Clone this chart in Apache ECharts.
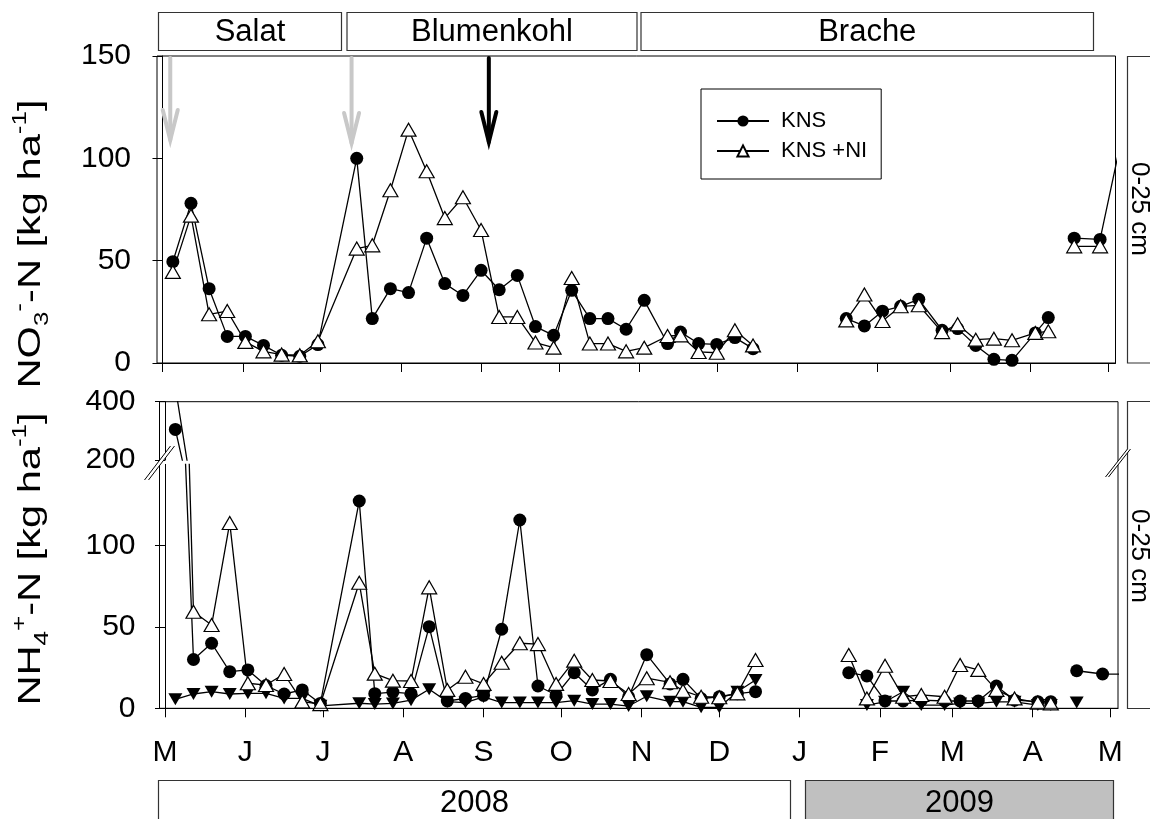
<!DOCTYPE html>
<html>
<head>
<meta charset="utf-8">
<title>Nmin 0-25 cm, 2008/2009</title>
<script src="https://cdn.jsdelivr.net/npm/echarts@6/dist/echarts.min.js"></script>
<style>
  html, body { margin: 0; padding: 0; background: #fff; }
  #chart { width: 1150px; height: 819px; }
</style>
</head>
<body>
<div id="chart"></div>
<script>
// ---- sampling dates (weekly soil sampling, 0-25 cm) ----
const sampleDates = [
  '2008-05-05', '2008-05-12', '2008-05-19', '2008-05-26', '2008-06-02', '2008-06-09',
  '2008-06-16', '2008-06-23', '2008-06-30', '2008-07-15', '2008-07-21', '2008-07-28',
  '2008-08-04', '2008-08-11', '2008-08-18', '2008-08-25', '2008-09-01', '2008-09-08',
  '2008-09-15', '2008-09-22', '2008-09-29', '2008-10-06', '2008-10-13', '2008-10-20',
  '2008-10-27', '2008-11-03', '2008-11-12', '2008-11-17', '2008-11-24', '2008-12-01',
  '2008-12-08', '2008-12-15',
  '2009-01-20', '2009-01-27', '2009-02-03', '2009-02-10', '2009-02-17', '2009-02-26',
  '2009-03-04', '2009-03-11', '2009-03-18', '2009-03-25', '2009-04-03', '2009-04-08',
  '2009-04-18', '2009-04-28', '2009-05-05'
];

// lines are interrupted at these dates (pauses in the sampling campaign)
const lineBreaks = ['2009-01-01', '2009-04-13'];

// NO3--N [kg/ha]
const nitrateKNS = [
  49.5, 78, 36.3, 13, 13, 8.6, 3.8, 3.3, 9, 100, 21.7, 36.3,
  34.4, 61, 38.8, 33, 45.3, 35.8, 42.8, 17.8, 13.5, 35.5, 21.7, 21.7,
  16.5, 30.6, 9.5, 15.1, 9.5, 9.1, 12.4, 7,
  21.7, 18.1, 25.3, 27.7, 31.1, 16, 16.8, 8.6, 1.8, 1.3, 14.7, 22.2,
  61, 60.4, 102
];
const nitrateKNSNI = [
  44.5, 72, 23.8, 25.4, 10.3, 5.7, 4.1, 3.8, 10.6, 55.9, 57.5, 84.4,
  114, 93.7, 70.8, 81, 65, 22.5, 22.5, 10, 7.5, 41.5, 9.5, 9.5,
  5.7, 7.5, 13.2, 13.5, 5.4, 5, 16, 8.6,
  20.8, 33.5, 20.5, 27.7, 28.2, 15.1, 18.9, 11.4, 11.9, 11.1, 14.7, 15.5,
  57, 57, null
];

// NH4+-N [kg/ha]
const ammoniumKNS = [
  305, 30, 40, 22.5, 23.6, 14, 8.8, 11.3, 3, 127.5, 9, 10,
  9, 50.2, 4.5, 6.1, 8, 48.6, 115.8, 13.7, 8.2, 21.9, 11.3, 17.8,
  7, 33, 15, 17.8, 6, 7.1, 9, 10.2,
  21.9, 19.9, 4.5, 4.5, 5, 4.5, 4.5, 4.5, 13.7, 5, 4.1, 4.1,
  23.1, 21.1, 21
];
const ammoniumKNSNI = [
  450, 59.4, 51.2, 114, 15.4, 14.3, 21.1, 4.1, 2.6, 77.2, 21.3, 17,
  16.8, 74.4, 11.3, 19.4, 15, 28, 40, 39.5, 15, 29.3, 17.4, 16.8,
  8.8, 18.5, 16, 10.8, 7.1, 6.8, 9.2, 29.7,
  32.8, 6.1, 26.2, 7.1, 8.2, 7.1, 26.6, 23.6, 11.3, 6.1, 3.5, 3,
  null, null, null
];
const ammoniumThird = [
  5.5, 8.8, 10.2, 8.8, 9.2, 9.2, 6.1, 6.1, 1.5, 3.1, 2.6, 3,
  5, 11.7, 4.1, 3.5, 7, 3.5, 3.5, 3.5, 3.5, 4.7, 2.6, 2.6,
  1.4, 7.4, 4.1, 4.1, 0.6, 0.6, 10.2, 17.4,
  null, 2, 4, 10.2, 2, 2, 3, 3, 4, 4, 2, 2,
  3.5, null, null
];

// fertilizer applications (arrow tip value on the NO3 axis)
const fertilizerDates = ['2008-05-04', '2008-07-13', '2008-09-04'];
const fertilizerTips = [109, 107.5, 108];
const fertilizerKinds = ['grau', 'grau', 'schwarz'];

// month ticks
const monthTickDates = [
  '2008-05-01', '2008-06-01', '2008-07-01', '2008-08-01', '2008-09-01', '2008-10-01',
  '2008-11-01', '2008-12-01', '2009-01-01', '2009-02-01', '2009-03-01', '2009-04-01',
  '2009-05-01'
];
const monthTickLabels = ['M', 'J', 'J', 'A', 'S', 'O', 'N', 'D', 'J', 'F', 'M', 'A', 'M'];

// crop periods and years
const cropPeriods = ['Salat', 'Blumenkohl', 'Brache'];
const years = ['2008', '2009'];

// ---- helpers ----
const ORIGIN = Date.UTC(2008, 4, 1);
function dayOf(s) {
  const p = s.split('-').map(Number);
  return Math.round((Date.UTC(p[0], p[1] - 1, p[2]) - ORIGIN) / 86400000);
}
function seriesData(values) {
  const pts = sampleDates.map((d, i) => [dayOf(d), values[i] == null ? '-' : values[i]]);
  lineBreaks.forEach(b => pts.push([dayOf(b), '-']));
  pts.sort((a, b) => a[0] - b[0]);
  return pts;
}

const FONT = "'Liberation Sans', Arial, Helvetica, sans-serif";
const axisStartDay = -2.12;
const axisEndDay = 367.95;
const tickDays = monthTickDates.map(dayOf);

function xAxisCfg(gridIndex, withLabels, visible) {
  return {
    type: 'value', gridIndex, min: axisStartDay, max: axisEndDay, show: visible,
    axisLine: { show: true, onZero: false, lineStyle: { color: '#000', width: 1 } },
    axisTick: { show: true, inside: false, length: 9, customValues: tickDays, lineStyle: { color: '#000', width: 1 } },
    axisLabel: {
      show: withLabels, customValues: tickDays, margin: 29, color: '#000',
      fontFamily: FONT, fontSize: 30,
      formatter: v => { const i = tickDays.indexOf(Math.round(v)); return i >= 0 ? monthTickLabels[i] : ''; }
    },
    splitLine: { show: false }
  };
}
function yAxisCfg(gridIndex, min, max, ticks, margin) {
  return {
    type: 'value', gridIndex, min, max,
    axisLine: { show: true, lineStyle: { color: '#000', width: 1 } },
    axisTick: { show: true, inside: false, length: 10, customValues: ticks, lineStyle: { color: '#000', width: 1 } },
    axisLabel: { customValues: ticks, margin, color: '#000', fontFamily: FONT, fontSize: 30 },
    splitLine: { show: false }
  };
}

const lineStyle = { color: '#000', width: 1.3 };
function circleSeries(name, values, xi, yi) {
  return {
    name, type: 'line', xAxisIndex: xi, yAxisIndex: yi, data: seriesData(values),
    symbol: 'circle', symbolSize: 13, showAllSymbol: true, clip: true,
    lineStyle, itemStyle: { color: '#000', borderColor: '#000', borderWidth: 0 },
    emphasis: { disabled: true }, animation: false
  };
}
function triangleSeries(name, values, xi, yi) {
  return {
    name, type: 'line', xAxisIndex: xi, yAxisIndex: yi, data: seriesData(values),
    symbol: 'triangle', symbolSize: [15, 13], showAllSymbol: true, clip: true,
    lineStyle, itemStyle: { color: '#fff', borderColor: '#000', borderWidth: 1.2 },
    emphasis: { disabled: true }, animation: false
  };
}
function downTriangleSeries(name, values, xi, yi) {
  return {
    name, type: 'line', xAxisIndex: xi, yAxisIndex: yi, data: seriesData(values),
    symbol: 'triangle', symbolRotate: 180, symbolSize: [14, 12], showAllSymbol: true, clip: true,
    lineStyle, itemStyle: { color: '#000', borderColor: '#000', borderWidth: 0 },
    emphasis: { disabled: true }, animation: false
  };
}

// arrows for the fertilizer applications
const arrowSeries = {
  type: 'custom', xAxisIndex: 0, yAxisIndex: 0, silent: true, animation: false,
  data: fertilizerDates.map((d, i) => [dayOf(d), fertilizerTips[i], i]),
  renderItem(params, api) {
    const x = api.value(0);
    const top = api.coord([x, 150]);
    const tip = api.coord([x, api.value(1)]);
    const color = fertilizerKinds[api.value(2)] === 'schwarz' ? '#000' : '#c8c8c8';
    const st = { stroke: color, lineWidth: 4, fill: null, lineCap: 'round', lineJoin: 'miter' };
    return {
      type: 'group',
      children: [
        { type: 'line', shape: { x1: top[0], y1: top[1] + 2, x2: tip[0], y2: tip[1] }, style: st },
        { type: 'polyline', shape: { points: [[tip[0] - 7.5, tip[1] - 30], [tip[0], tip[1]], [tip[0] + 7.5, tip[1] - 30]] }, style: st }
      ]
    };
  }
};

// ---- layout decorations ----
const gTop = { left: 157, top: 56, width: 958.5, height: 307 };
const gLow = { left: 159.5, top: 464.4, width: 958.5, height: 243.9 };
const gUp = { left: 159.5, top: 401.7, width: 958.5, height: 58.3 };

const headerBoxes = [[158.5, 341.5], [347, 637], [641, 1093.5]];
const graphic = [];
cropPeriods.forEach((name, i) => {
  const [x0, x1] = headerBoxes[i];
  graphic.push({ type: 'rect', shape: { x: x0, y: 12.5, width: x1 - x0, height: 38 },
    style: { fill: '#fff', stroke: '#333', lineWidth: 1.2 } });
  graphic.push({ type: 'text', x: (x0 + x1) / 2, y: 32,
    style: { text: name, fill: '#000', fontFamily: FONT, fontSize: 31, align: 'center', verticalAlign: 'middle' } });
});
const yearBoxes = [[158.5, 790.5, '#fff'], [805.5, 1113.5, '#c0c0c0']];
years.forEach((y, i) => {
  const [x0, x1, fill] = yearBoxes[i];
  graphic.push({ type: 'rect', shape: { x: x0, y: 780.5, width: x1 - x0, height: 60 },
    style: { fill, stroke: '#333', lineWidth: 1.2 } });
  graphic.push({ type: 'text', x: (x0 + x1) / 2, y: 803,
    style: { text: y, fill: '#000', fontFamily: FONT, fontSize: 31, align: 'center', verticalAlign: 'middle' } });
});
// depth labels at the right
[[56.5, 363, 209], [401.5, 708.5, 556]].forEach(([y0, y1, yc]) => {
  graphic.push({ type: 'rect', shape: { x: 1127.5, y: y0, width: 40, height: y1 - y0 },
    style: { fill: '#fff', stroke: '#333', lineWidth: 1.2 } });
  graphic.push({ type: 'text', x: 1139, y: yc, rotation: -Math.PI / 2,
    style: { text: '0-25 cm', fill: '#000', fontFamily: FONT, fontSize: 26, align: 'center', verticalAlign: 'middle' } });
});
// y-axis titles with sub/superscripts
const titleRich = {
  m: { fontFamily: FONT, fontSize: 32, lineHeight: 42, fill: '#000' },
  sub: { fontFamily: FONT, fontSize: 20, lineHeight: 20, verticalAlign: 'bottom', fill: '#000' },
  sup: { fontFamily: FONT, fontSize: 20, lineHeight: 20, verticalAlign: 'top', fill: '#000' }
};
graphic.push({ type: 'text', x: 31, y: 244, rotation: Math.PI / 2, scaleX: 1.3,
  style: { text: '{m|NO}{sub|3}{sup|-}{m|-N [kg ha}{sup|-1}{m|]}', rich: titleRich, align: 'center', verticalAlign: 'middle' } });
graphic.push({ type: 'text', x: 31, y: 559, rotation: Math.PI / 2, scaleX: 1.3,
  style: { text: '{m|NH}{sub|4}{sup|+}{m|-N [kg ha}{sup|-1}{m|]}', rich: titleRich, align: 'center', verticalAlign: 'middle' } });
// frame of the lower panel
graphic.push({ type: 'rect', z: 5, shape: { x: gUp.left, y: gUp.top, width: gUp.width, height: gLow.top + gLow.height - gUp.top },
  style: { fill: null, stroke: '#000', lineWidth: 1 } });
// axis break marks
function breakMark(cx, cy, dx, dy, sep) {
  graphic.push({ type: 'polygon', z: 20,
    shape: { points: [[cx - dx - sep, cy + dy], [cx + dx - sep, cy - dy], [cx + dx + sep, cy - dy], [cx - dx + sep, cy + dy]] },
    style: { fill: '#fff', stroke: null } });
  [-sep, sep].forEach(o => graphic.push({ type: 'line', z: 21,
    shape: { x1: cx - dx + o, y1: cy + dy, x2: cx + dx + o, y2: cy - dy },
    style: { stroke: '#000', lineWidth: 1 } }));
}
breakMark(159.5, 463, 13, 17, 2);
breakMark(1118, 463, 11, 14, 1.5);

const option = {
  animation: false,
  backgroundColor: '#fff',
  textStyle: { fontFamily: FONT },
  grid: [
    Object.assign({ show: true, borderColor: '#000', borderWidth: 1, backgroundColor: 'transparent' }, gTop),
    Object.assign({ show: false }, gLow),
    Object.assign({ show: false }, gUp)
  ],
  xAxis: [xAxisCfg(0, false, true), xAxisCfg(1, true, true), xAxisCfg(2, false, false)],
  yAxis: [
    Object.assign(yAxisCfg(0, 0, 150, [0, 50, 100, 150], 26), { interval: 50 }),
    Object.assign(yAxisCfg(1, 0, 150, [0, 50, 100], 24), { interval: 50 }),
    Object.assign(yAxisCfg(2, 200, 400, [200, 400], 24), { interval: 200 })
  ],
  legend: {
    data: ['KNS', 'KNS +NI'],
    orient: 'vertical', left: 701, top: 89,
    backgroundColor: '#fff', borderColor: '#000', borderWidth: 1,
    padding: [21, 14, 17, 15],
    itemWidth: 52, itemHeight: 14, itemGap: 8,
    selectedMode: false,
    textStyle: { fontFamily: FONT, fontSize: 22, lineHeight: 22, color: '#000', padding: [0, 0, 0, 7] }
  },
  graphic,
  series: [
    arrowSeries,
    circleSeries('KNS', nitrateKNS, 0, 0),
    triangleSeries('KNS +NI', nitrateKNSNI, 0, 0),
    downTriangleSeries('Reihe 3', ammoniumThird, 1, 1),
    circleSeries('KNS', ammoniumKNS, 1, 1),
    triangleSeries('KNS +NI', ammoniumKNSNI, 1, 1),
    downTriangleSeries('Reihe 3', ammoniumThird, 2, 2),
    circleSeries('KNS', ammoniumKNS, 2, 2),
    triangleSeries('KNS +NI', ammoniumKNSNI, 2, 2)
  ]
};

const chart = echarts.init(document.getElementById('chart'), null, { renderer: 'canvas' });
chart.setOption(option);
</script>
</body>
</html>
